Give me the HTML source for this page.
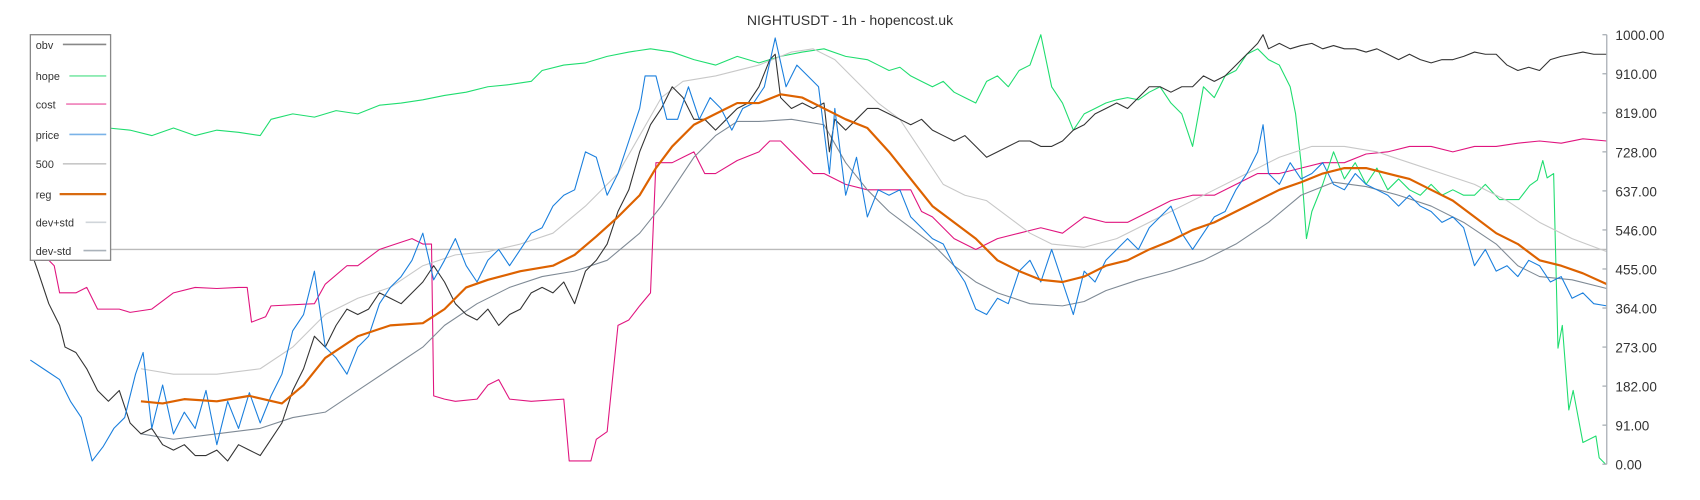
<!DOCTYPE html>
<html><head><meta charset="utf-8"><style>html,body{margin:0;padding:0;background:#fff}svg{display:block}</style></head>
<body>
<svg width="1700" height="500" viewBox="0 0 1568 461" preserveAspectRatio="none" font-family="Liberation Sans, sans-serif">
<text x="784" y="23" text-anchor="middle" font-size="13" fill="#333">NIGHTUSDT - 1h - hopencost.uk</text>
<g fill="none" stroke-linejoin="round">
<line x1="28" y1="230" x2="1482" y2="230" stroke="#bbb" stroke-width="1.3"/>
<polyline stroke="#e0157f" stroke-width="1" points="28,170 35,170 38,240 45,240 50,245 55,270 70,270 80,265 90,285 110,285 120,288 140,285 160,270 180,265 200,266 220,265 228,265 232,297 245,292 250,282 290,280 300,262 320,245 330,245 350,230 365,225 380,220 390,225 398,225 400,365 410,368 420,370 440,368 450,355 460,350 470,368 490,370 520,368 525,425 545,425 550,405 560,398 570,300 580,295 590,282 600,270 605,150 620,150 630,145 640,140 650,160 660,160 680,148 700,140 710,130 720,130 740,150 750,160 760,160 780,170 800,175 840,175 850,195 860,200 880,220 900,230 920,220 940,215 960,210 980,215 1000,200 1020,205 1040,205 1060,195 1080,185 1100,180 1120,180 1140,170 1160,160 1180,160 1200,155 1220,150 1240,150 1260,142 1280,140 1300,135 1320,135 1340,140 1360,135 1380,135 1400,132 1420,130 1440,132 1460,128 1482,130"/>
<polyline stroke="#1fdd6f" stroke-width="1" points="28,125 40,122 60,118 80,115 100,118 120,120 140,125 160,118 180,125 200,120 220,122 240,125 250,110 270,105 290,108 310,102 330,105 350,97 370,95 390,92 410,88 430,85 450,80 470,78 490,75 500,65 520,60 540,58 560,52 580,48 600,45 620,48 640,55 660,60 680,52 700,58 720,52 740,48 760,45 780,52 800,55 810,60 820,65 830,62 840,70 850,75 860,80 870,75 880,85 890,90 900,95 910,75 920,70 930,80 940,65 950,60 960,32 970,80 980,95 990,120 1000,105 1010,100 1020,95 1030,92 1040,90 1050,92 1060,85 1070,80 1080,95 1090,105 1100,135 1110,80 1120,90 1130,70 1140,65 1150,50 1160,45 1170,55 1180,60 1190,80 1195,105 1200,150 1205,220 1210,195 1220,170 1230,140 1240,165 1250,150 1260,170 1270,155 1280,175 1290,165 1300,175 1310,180 1320,170 1330,180 1340,175 1350,180 1360,180 1370,170 1383,184 1401,184 1411,171 1418,166 1423,148 1427,164 1433,160 1437,321 1441,300 1447,378 1451,360 1460,408 1472,402 1475,422 1481,428"/>
<polyline stroke="#c8c8c8" stroke-width="1" points="130,340 160,345 200,345 240,340 270,320 300,290 330,275 360,265 390,245 420,235 450,232 480,225 510,215 540,190 570,160 590,125 610,90 630,75 660,70 700,60 730,48 750,45 770,55 790,75 810,95 830,110 850,140 870,170 890,180 910,185 930,200 950,215 970,225 1000,228 1030,220 1060,205 1090,190 1120,175 1150,160 1180,145 1210,135 1240,135 1270,140 1300,150 1330,160 1360,170 1390,185 1420,205 1450,220 1482,232"/>
<polyline stroke="#7f8a95" stroke-width="1" points="130,400 160,405 200,400 240,395 270,385 300,380 330,360 360,340 390,320 410,300 440,280 470,265 500,255 530,250 560,240 590,215 610,190 640,145 660,125 680,112 700,112 730,110 760,115 780,150 800,175 820,195 840,210 860,225 880,245 900,260 920,270 950,280 980,282 1000,278 1020,268 1050,258 1080,250 1110,240 1140,225 1170,205 1200,180 1230,168 1260,172 1290,180 1320,190 1350,205 1380,225 1400,245 1420,255 1450,258 1482,266"/>
<polyline stroke="#333" stroke-width="1" points="28,230 35,250 45,280 55,300 60,320 70,325 80,340 90,360 100,370 110,360 120,390 130,400 140,395 150,410 160,415 170,410 180,420 190,420 200,415 210,425 220,410 230,415 240,420 250,405 260,390 270,360 280,340 290,310 300,320 310,300 320,285 330,290 340,285 350,270 360,275 370,280 380,270 390,260 400,245 410,260 420,280 430,290 440,295 450,285 460,300 470,290 480,285 490,270 500,265 510,270 520,260 530,280 540,250 550,240 560,225 570,195 580,175 590,140 600,115 610,100 620,80 630,90 640,110 650,110 660,120 670,110 680,100 690,95 700,80 710,55 715,50 720,90 730,100 740,95 750,100 760,95 765,140 770,110 780,120 790,110 800,100 810,100 820,105 830,110 840,115 850,110 860,120 870,125 880,130 890,125 900,135 910,145 920,140 930,135 940,130 950,130 960,135 970,135 980,130 990,120 1000,115 1010,105 1020,100 1030,95 1040,100 1050,90 1060,80 1070,80 1080,85 1090,80 1100,80 1110,70 1120,75 1130,70 1140,60 1150,50 1160,40 1165,32 1170,45 1180,40 1190,45 1200,42 1210,40 1220,45 1230,42 1240,45 1250,45 1260,48 1270,45 1280,50 1290,55 1300,50 1310,55 1320,58 1330,55 1340,55 1350,52 1360,48 1370,50 1380,50 1390,60 1400,65 1410,62 1420,65 1430,55 1440,52 1450,50 1460,48 1470,50 1482,50"/>
<polyline stroke="#1a7fdd" stroke-width="1" points="28,332 40,340 55,350 65,370 75,385 85,425 95,412 105,395 115,385 125,345 132,325 140,395 150,355 160,400 170,380 180,395 190,360 200,410 210,370 220,395 230,362 240,390 250,365 260,345 270,305 280,290 290,250 300,320 310,330 320,345 330,320 340,310 350,280 360,265 370,255 380,240 390,215 400,258 410,240 420,220 430,245 440,260 450,240 460,230 470,245 480,230 490,215 500,210 510,190 520,180 530,175 540,140 550,145 560,180 570,160 580,130 590,100 595,70 605,70 615,110 625,110 635,80 645,110 655,90 665,100 675,120 685,100 695,95 705,80 715,35 725,80 735,60 745,70 755,80 765,160 770,100 780,180 790,145 800,200 810,175 820,180 830,175 840,200 850,210 860,220 870,225 880,245 890,260 900,285 910,290 920,275 930,280 940,250 950,240 960,260 970,230 980,260 990,290 1000,250 1010,260 1020,240 1030,230 1040,220 1050,230 1060,210 1070,200 1080,190 1090,215 1100,230 1110,215 1120,200 1130,195 1140,175 1150,160 1160,140 1165,115 1170,160 1180,170 1190,150 1200,165 1210,160 1220,150 1230,170 1240,175 1250,160 1260,170 1270,175 1280,180 1290,190 1300,180 1310,190 1320,195 1330,205 1340,200 1350,210 1360,245 1370,230 1380,250 1390,245 1400,255 1410,240 1420,245 1430,260 1440,255 1450,275 1460,270 1470,280 1482,282"/>
<polyline stroke="#dd6200" stroke-width="2" points="130,370 150,372 170,368 200,370 230,365 260,372 280,355 300,330 330,310 360,300 390,298 410,285 430,265 450,258 480,250 510,245 530,235 550,218 570,200 590,180 605,155 620,135 640,115 660,105 680,95 700,95 720,87 740,90 760,100 780,110 800,118 820,140 840,165 860,190 880,205 900,220 920,240 940,250 960,258 980,260 1000,255 1020,245 1040,240 1060,230 1080,222 1100,212 1120,205 1140,195 1160,185 1180,175 1200,168 1220,160 1240,155 1260,155 1280,160 1300,165 1320,175 1340,185 1360,200 1380,215 1400,225 1420,240 1440,245 1460,252 1482,262"/>
</g>
<g stroke="#aab0b6" stroke-width="1.2">
<line x1="1482" y1="32" x2="1482" y2="428"/>
<line x1="1478" y1="32" x2="1482" y2="32"/><line x1="1478" y1="68" x2="1482" y2="68"/><line x1="1478" y1="104" x2="1482" y2="104"/><line x1="1478" y1="140" x2="1482" y2="140"/><line x1="1478" y1="176" x2="1482" y2="176"/><line x1="1478" y1="212" x2="1482" y2="212"/><line x1="1478" y1="248" x2="1482" y2="248"/><line x1="1478" y1="284" x2="1482" y2="284"/><line x1="1478" y1="320" x2="1482" y2="320"/><line x1="1478" y1="356" x2="1482" y2="356"/><line x1="1478" y1="392" x2="1482" y2="392"/><line x1="1478" y1="428" x2="1482" y2="428"/>
</g>
<g font-size="12.5" fill="#333">
<text x="1490" y="37">1000.00</text><text x="1490" y="73">910.00</text><text x="1490" y="109">819.00</text><text x="1490" y="145">728.00</text><text x="1490" y="181">637.00</text><text x="1490" y="217">546.00</text><text x="1490" y="253">455.00</text><text x="1490" y="289">364.00</text><text x="1490" y="325">273.00</text><text x="1490" y="361">182.00</text><text x="1490" y="397">91.00</text><text x="1490" y="433">0.00</text>
</g>
<g>
<rect x="28" y="32" width="74" height="208" fill="#fff" stroke="#888" stroke-width="1.2"/>
<g font-size="10" fill="#333">
<text x="33" y="45">obv</text><text x="33" y="74">hope</text><text x="33" y="100">cost</text><text x="33" y="128">price</text><text x="33" y="155">500</text><text x="33" y="183">reg</text><text x="33" y="209">dev+std</text><text x="33" y="235">dev-std</text>
</g>
<g stroke-width="1.5">
<line x1="58" y1="41" x2="98" y2="41" stroke="#888"/>
<line x1="64" y1="70" x2="98" y2="70" stroke="#7ee8a8"/>
<line x1="61" y1="96" x2="98" y2="96" stroke="#ef7fb8"/>
<line x1="64" y1="124" x2="98" y2="124" stroke="#7ab3e8"/>
<line x1="58" y1="151" x2="98" y2="151" stroke="#c8c8c8"/>
<line x1="55" y1="179" x2="98" y2="179" stroke="#d86a10" stroke-width="2"/>
<line x1="79" y1="205" x2="98" y2="205" stroke="#d0d5da"/>
<line x1="77" y1="231" x2="98" y2="231" stroke="#aab2ba"/>
</g>
</g>
</svg>
</body></html>
